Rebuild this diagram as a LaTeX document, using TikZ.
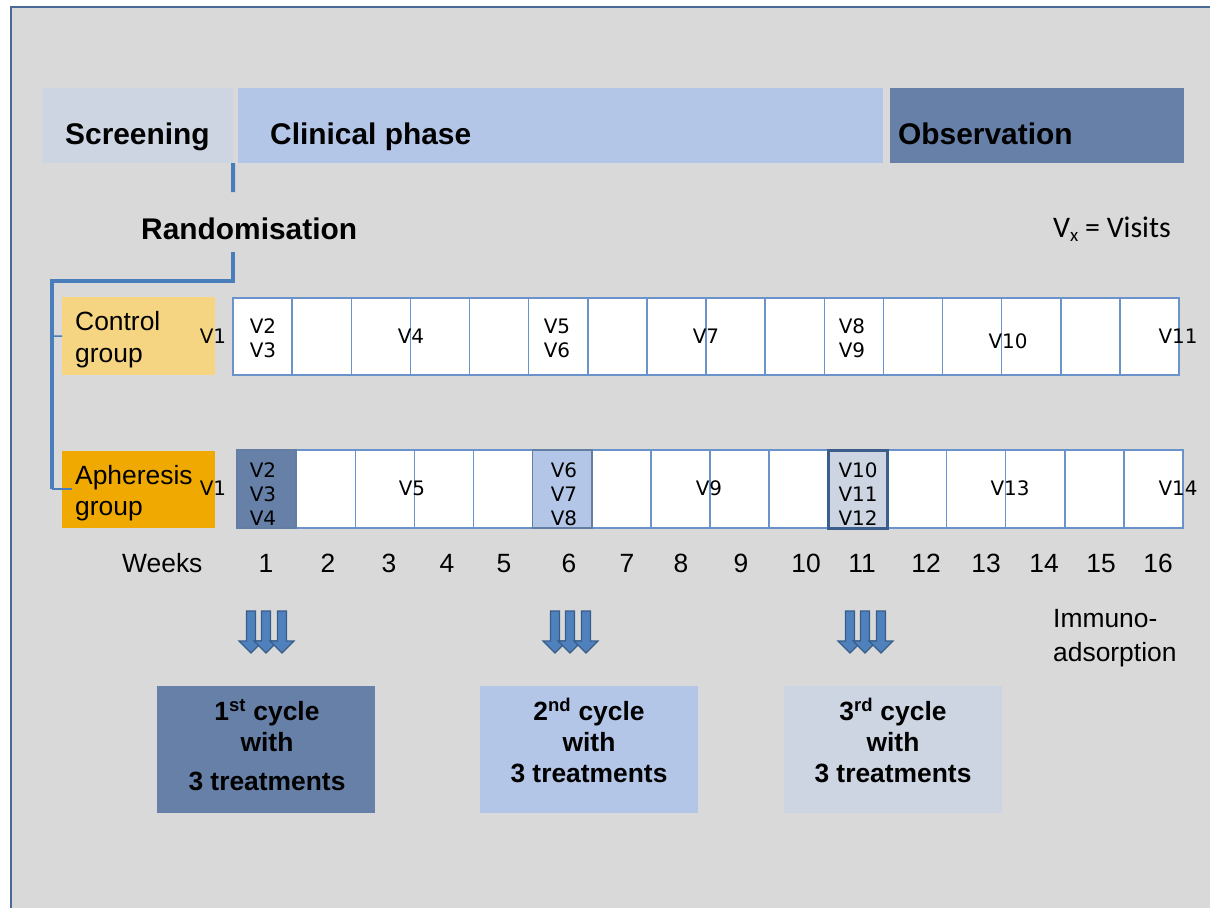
\documentclass[tikz,border=0pt]{standalone}
\usepackage{fontspec}
\setmainfont{Liberation Sans}
\newfontfamily\dvfont{DejaVu Sans}
\newfontfamily\carfont{Carlito}
\definecolor{bgc}{HTML}{D9D9D9}
\definecolor{scrc}{HTML}{CDD5E3}
\definecolor{clinc}{HTML}{B4C6E7}
\definecolor{obsc}{HTML}{6680A8}
\definecolor{ctrlc}{HTML}{F5D581}
\definecolor{aphc}{HTML}{F0A900}
\definecolor{lineblue}{HTML}{4A7EBB}
\definecolor{cellb}{HTML}{6A93CB}
\definecolor{arrf}{HTML}{4F81BD}
\definecolor{arrd}{HTML}{385D8A}
\definecolor{framec}{HTML}{4A6A96}
\definecolor{darkb}{HTML}{3B5E8C}
\tikzset{
  box/.style={inner sep=0pt, outer sep=0pt, anchor=north west},
  bigtxt/.style={inner sep=0pt, anchor=base west, font=\bfseries\fontsize{30}{36}\selectfont},
  midtxt/.style={inner sep=0pt, anchor=base west, font=\fontsize{26.5}{32}\selectfont},
  wk/.style={inner sep=0pt, anchor=base, font=\fontsize{26.5}{32}\selectfont},
  cyc/.style={inner sep=0pt, anchor=base, font=\bfseries\fontsize{26.5}{32}\selectfont},
  vis/.style={inner sep=0pt, anchor=base, font=\dvfont\fontsize{20}{24}\selectfont},
  cellbox/.style={draw=cellb, line width=1.5bp, fill=white},
  conn/.style={draw=lineblue, line width=4bp},
  tick/.style={draw=lineblue, line width=1.5bp},
  tri/.pic={
    \foreach \dx in {-15,0,16}{
      \filldraw[fill=arrf, draw=arrd, line width=1.2bp, line join=miter]
        (\dx-4.5,0) -- (\dx+4.5,0) -- (\dx+4.5,30) -- (\dx+12,30) -- (\dx,42)
        -- (\dx-12,30) -- (\dx-4.5,30) -- cycle;
    }
  }
}
\begin{document}
\begin{tikzpicture}[x=1bp,y=-1bp]
\useasboundingbox (0,0) rectangle (1210,908);
\fill[white] (0,0) rectangle (1210,908);
\fill[bgc] (10,6) rectangle (1210,908);
\draw[framec, line width=2bp] (11,908) -- (11,7) -- (1210,7);

% phase bars
\node[box, fill=scrc, minimum width=190bp, minimum height=75bp] (scr) at (43,88) {};
\node[box, fill=clinc, minimum width=645bp, minimum height=75bp] (clin) at (238,88) {};
\node[box, fill=obsc, minimum width=294bp, minimum height=75bp] (obs) at (890,88) {};
\node[bigtxt] (scrT) at (65,144) {Screening};
\node[bigtxt] (clinT) at (270,144) {Clinical phase};
\node[bigtxt] (obsT) at (898,144) {Observation};

\node[bigtxt] (rand) at (141,239) {Randomisation};
\node[inner sep=0pt, anchor=base west, font=\carfont\fontsize{30}{36}\selectfont] (vx) at (1053,237) {V\raisebox{-0.35ex}{\fontsize{19}{20}\selectfont x} = Visits};

% group boxes
\node[box, fill=ctrlc, minimum width=153bp, minimum height=78bp] (ctrl) at (62,297) {};
\node[box, fill=aphc, minimum width=153bp, minimum height=77bp] (aph) at (62,451) {};
\node[midtxt] at (75,330) {Control};
\node[midtxt] at (75,362) {group};
\node[midtxt] at (75,484) {Apheresis};
\node[midtxt] at (75,515) {group};

% connectors
\coordinate (r1) at (233,192);
\coordinate (r2) at (233,252);
\coordinate (r3) at (233,281);
\coordinate (r4) at (52,281);
\coordinate (r5) at (52,489);
\coordinate (r6) at (52,336);
\draw[conn] (scr.south east) -- (r1);
\draw[conn] (r2) -- (r3) -- (r4) -- (r5);
\draw[tick] (r6) -- (ctrl.west);
\draw[tick] (r5) -- (72,489);

% control row cells
\foreach \i in {0,...,15}
  \draw[cellbox] ({233+59.125*\i},298) rectangle ++(59.125,77);
% apheresis row cells
\foreach \i in {0,...,15}
  \draw[cellbox] ({237+59.125*\i},450) rectangle ++(59.125,78);
\draw[cellbox, fill=obsc, draw=darkb!80] (237,450) rectangle ++(59.125,78);
\draw[cellbox, fill=clinc, draw=darkb!80] ({237+59.125*5},450) rectangle ++(59.125,78);
\draw[cellbox, fill=scrc, draw=darkb, line width=3bp] ({237+59.125*10},450) rectangle ++(59.125,78);

% visit labels control
\node[vis] at (213,343) {V1};
\node[vis] at (263,333) {V2};
\node[vis] at (263,357) {V3};
\node[vis] at (411,343) {V4};
\node[vis] at (557,333) {V5};
\node[vis] at (557,357) {V6};
\node[vis] at (706,343) {V7};
\node[vis] at (852,333) {V8};
\node[vis] at (852,357) {V9};
\node[vis] at (1008,348) {V10};
\node[vis] at (1178,343) {V11};
% visit labels apheresis
\node[vis] at (213,495) {V1};
\node[vis] at (263,477) {V2};
\node[vis] at (263,501) {V3};
\node[vis] at (263,525) {V4};
\node[vis] at (412,495) {V5};
\node[vis] at (564,477) {V6};
\node[vis] at (564,501) {V7};
\node[vis] at (564,525) {V8};
\node[vis] at (709,495) {V9};
\node[vis] at (858,477) {V10};
\node[vis] at (858,501) {V11};
\node[vis] at (858,525) {V12};
\node[vis] at (1010,495) {V13};
\node[vis] at (1178,495) {V14};

% weeks
\node[midtxt] (weeks) at (122,572) {Weeks};
\foreach \x/\n in {266/1,328/2,389/3,447/4,504/5,569/6,627/7,681/8,741/9,806/10,862/11,926/12,986/13,1044/14,1101/15,1158/16}
  \node[wk] at (\x,572) {\n};

% arrows
\pic at (266,611) {tri};
\pic at (570,611) {tri};
\pic at (865,611) {tri};

\node[midtxt] at (1053,627) {Immuno-};
\node[midtxt] at (1053,661) {adsorption};

% cycle boxes
\node[box, fill=obsc, minimum width=218bp, minimum height=127bp] (c1) at (157,686) {};
\node[box, fill=clinc, minimum width=218bp, minimum height=127bp] (c2) at (480,686) {};
\node[box, fill=scrc, minimum width=218bp, minimum height=127bp] (c3) at (784,686) {};
\node[cyc] at (267,720) {1\textsuperscript{st} cycle};
\node[cyc] at (267,751) {with};
\node[cyc] at (267,790) {3 treatments};
\node[cyc] at (589,720) {2\textsuperscript{nd} cycle};
\node[cyc] at (589,751) {with};
\node[cyc] at (589,782) {3 treatments};
\node[cyc] at (893,720) {3\textsuperscript{rd} cycle};
\node[cyc] at (893,751) {with};
\node[cyc] at (893,782) {3 treatments};
\end{tikzpicture}
\end{document}
